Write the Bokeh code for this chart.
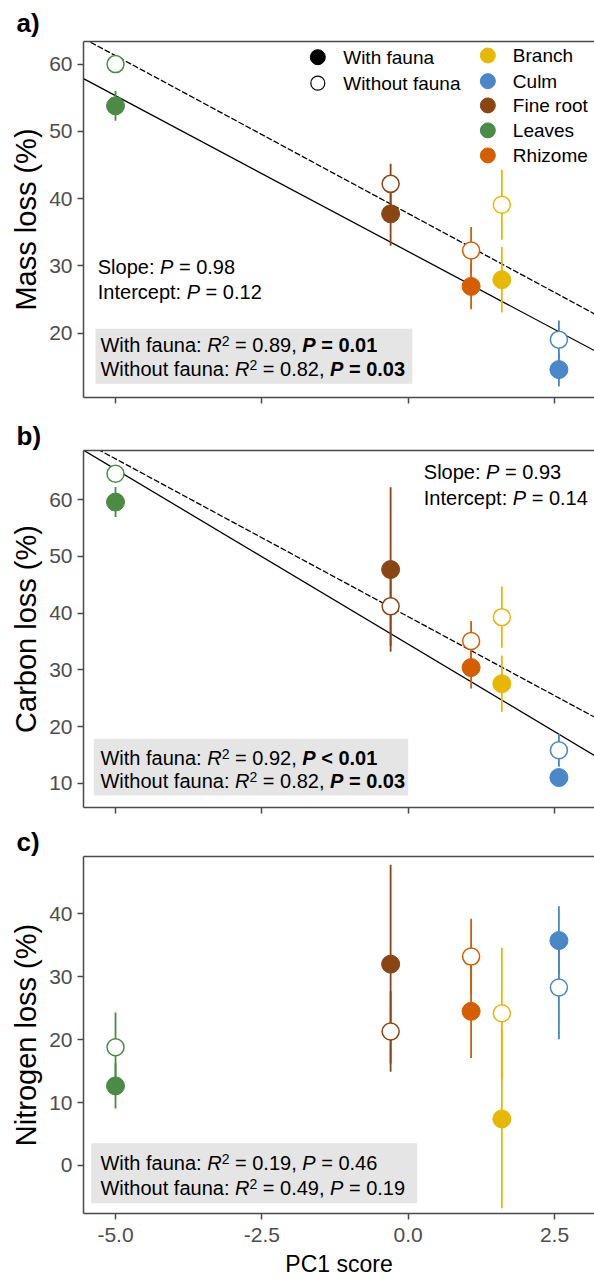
from bokeh.plotting import figure
from bokeh.models import (Range1d, FixedTicker, LinearAxis, Label,
                          CustomJSTickFormatter, NumeralTickFormatter)
from bokeh.layouts import column
from bokeh.embed import file_html
from bokeh.resources import INLINE

# ---------------- data ----------------
categories = ["Branch", "Culm", "Fine root", "Leaves", "Rhizome"]
pc1_score = [1.60, 2.575, -0.30, -5.00, 1.075]
colors = ["#E6B800", "#4A86C8", "#8B4513", "#4B8B47", "#D55E00"]

mass_with = [27.95, 14.6, 37.75, 53.8, 26.96]
mass_with_se = [4.85, 2.5, 4.75, 2.2, 3.4]
mass_without = [39.1, 19.05, 42.2, 60.0, 32.3]
mass_without_se = [5.2, 2.85, 3.0, 0.8, 3.5]

carbon_with = [27.55, 11.0, 47.7, 59.6, 30.4]
carbon_with_se = [4.95, 1.5, 14.5, 2.65, 3.7]
carbon_without = [39.3, 15.8, 41.2, 64.6, 35.1]
carbon_without_se = [5.4, 2.9, 7.0, 1.0, 3.5]

nitrogen_with = [7.4, 35.75, 32.0, 12.65, 24.5]
nitrogen_with_se = [14.2, 5.45, 15.8, 3.6, 7.4]
nitrogen_without = [24.2, 28.3, 21.3, 18.8, 33.2]
nitrogen_without_se = [10.4, 8.25, 6.4, 5.5, 6.0]

# fitted regression lines (intercept, slope)
mass_fit_with = [32.15, -4.63]
mass_fit_without = [37.8, -4.69]
carbon_fit_with = [34.53, -6.17]
carbon_fit_without = [39.38, -5.57]

r2_with = ["0.89", "0.92", "0.19"]
p_with = ["= 0.01", "< 0.01", "= 0.46"]
r2_without = ["0.82", "0.82", "0.49"]
p_without = ["= 0.03", "= 0.03", "= 0.19"]
p_bold = [True, True, False]
slope_p = ["0.98", "0.93"]
intercept_p = ["0.12", "0.14"]
panel_tags = ["a)", "b)", "c)"]

pc1_ticks = [-5.0, -2.5, 0.0, 2.5]
mass_ticks = [20, 30, 40, 50, 60]
carbon_ticks = [10, 20, 30, 40, 50, 60]
nitrogen_ticks = [0, 10, 20, 30, 40]

# ---------------- styling helpers ----------------
FONT = "Liberation Sans"
BORDER = "#4a4a4a"
X_START, X_END = -5.547, 3.183

AW = {' ': 278, 'W': 944, 'i': 222, 't': 278, 'h': 556, 'f': 278, 'a': 556, 'u': 556,
      'n': 556, ':': 278, 'o': 556, 'S': 667, 'l': 222, 'p': 556, 'e': 556, 'I': 278,
      'c': 500, 'r': 333, 'P': 667, 'R': 722, '=': 584, '<': 584, ',': 278, '.': 278}


def tw(s, size):
    return sum(AW.get(ch, 556) for ch in s) / 1000.0 * size


def rich(p, x, y, parts, size=20):
    off = 0.0
    for txt, style, sup in parts:
        fs = 14 if sup else size
        stripped = txt.lstrip(" ")
        off += tw(txt[:len(txt) - len(stripped)], fs)
        body = stripped.rstrip(" ")
        if body:
            p.add_layout(Label(x=x, y=y, x_offset=off, y_offset=4 if sup else 0,
                               text=body, text_font=FONT, text_font_size=f"{fs}px",
                               text_font_style=style, text_baseline="middle",
                               text_color="black"))
        off += tw(stripped, fs)


def make_panel(height, top, bottom, y0, y1, yticks, ylabel, show_x, tag, tag_standoff):
    p = figure(width=594, height=height, x_range=Range1d(X_START, X_END),
               y_range=Range1d(y0, y1), output_backend="svg", toolbar_location=None,
               min_border_left=83, min_border_right=0, min_border_top=top,
               min_border_bottom=bottom, outline_line_color=None)
    p.grid.visible = False
    for ax in (p.xaxis[0], p.yaxis[0]):
        ax.axis_line_color = BORDER
        ax.axis_line_width = 1.5
        ax.major_tick_line_color = BORDER
        ax.major_tick_line_width = 1.5
        ax.major_tick_in = 0
        ax.major_tick_out = 6
        ax.minor_tick_line_color = None
        ax.major_label_text_font = FONT
        ax.major_label_text_color = "#4D4D4D"
        ax.major_label_text_font_size = "21px"
        ax.axis_label_text_font = FONT
        ax.axis_label_text_font_style = "normal"
        ax.axis_label_text_color = "black"
    p.xaxis.ticker = FixedTicker(ticks=pc1_ticks)
    p.yaxis.ticker = FixedTicker(ticks=yticks)
    p.yaxis.axis_label = ylabel
    p.yaxis.axis_label_text_font_size = "29px"
    p.yaxis.axis_label_standoff = 4
    if show_x:
        p.xaxis.formatter = NumeralTickFormatter(format="0.0")
        p.xaxis.axis_label = "PC1 score"
        p.xaxis.axis_label_text_font_size = "23px"
        p.xaxis.major_label_standoff = 8
        p.xaxis.axis_label_standoff = 6
    else:
        p.xaxis.formatter = CustomJSTickFormatter(code="return ''")
        p.xaxis.major_label_text_font_size = "0px"
        p.xaxis.major_label_standoff = 0
    topax = LinearAxis(ticker=FixedTicker(ticks=[]),
                       formatter=CustomJSTickFormatter(code="return ''"),
                       major_tick_in=0, major_tick_out=0, minor_tick_in=0, minor_tick_out=0,
                       major_label_text_font_size="0px", major_label_standoff=0,
                       axis_line_color=BORDER, axis_line_width=1.5)
    p.add_layout(topax, "above")
    # panel tag ("a)", "b)", "c)") as the figure title, shifted into the left margin
    p.title.text = tag
    p.title.align = "left"
    p.title.offset = -67
    p.title.text_font = FONT
    p.title.text_font_size = "26px"
    p.title.text_font_style = "bold"
    p.title.text_color = "black"
    p.title.vertical_align = "bottom"
    p.title.standoff = tag_standoff
    return p


def draw_points(p, with_m, with_se, without_m, without_se):
    lo_w = [m - s for m, s in zip(with_m, with_se)]
    hi_w = [m + s for m, s in zip(with_m, with_se)]
    lo_o = [m - s for m, s in zip(without_m, without_se)]
    hi_o = [m + s for m, s in zip(without_m, without_se)]
    p.segment(x0=pc1_score, y0=lo_w, x1=pc1_score, y1=hi_w, line_color=colors, line_width=1.8)
    p.segment(x0=pc1_score, y0=lo_o, x1=pc1_score, y1=hi_o, line_color=colors, line_width=1.8)
    p.scatter(x=pc1_score, y=with_m, size=18, marker="circle", fill_color=colors,
              line_color=colors, line_width=1)
    p.scatter(x=pc1_score, y=without_m, size=17, marker="circle", fill_color="white",
              line_color=colors, line_width=1.5)


def draw_fit(p, fit, dash):
    xs = [X_START, X_END]
    ys = [fit[0] + fit[1] * x for x in xs]
    p.line(xs, ys, line_color="black", line_width=1.3, line_dash=dash)


def stats_box(p, i, left, right, top, bottom, x, y1, y2):
    p.quad(left=[left], right=[right], top=[top], bottom=[bottom],
           fill_color="#E5E5E5", line_color=None)
    bstyle = "bold" if p_bold[i] else "normal"
    bital = "bold italic" if p_bold[i] else "italic"
    for y, lab, r2, pv in ((y1, "With fauna: ", r2_with[i], p_with[i]),
                           (y2, "Without fauna: ", r2_without[i], p_without[i])):
        rich(p, x, y, [(lab, "normal", False), ("R", "italic", False), ("2", "normal", True),
                       (f" = {r2}, ", "normal", False), ("P", bital, False),
                       (" " + pv, bstyle, False)])


def slope_text(p, i, x, y1, y2):
    rich(p, x, y1, [("Slope: ", "normal", False), ("P", "italic", False),
                    (f" = {slope_p[i]}", "normal", False)])
    rich(p, x, y2, [("Intercept: ", "normal", False), ("P", "italic", False),
                    (f" = {intercept_p[i]}", "normal", False)])


# ---------------- panel a ----------------
pa = make_panel(411, 41, 14, 10.45, 63.36, mass_ticks, "Mass loss (%)", False, panel_tags[0], 8)
stats_box(pa, 0, -5.342, 0.069, 20.66, 12.49, -5.257, 18.18, 14.72)
draw_fit(pa, mass_fit_with, "solid")
draw_fit(pa, mass_fit_without, "6 2")
draw_points(pa, mass_with, mass_with_se, mass_without, mass_without_se)
slope_text(pa, 0, -5.303, 29.91, 26.09)

# legend (panel a)
pa.scatter(x=[-1.544], y=[61.03], size=15, marker="circle", fill_color="black", line_color="black")
pa.scatter(x=[-1.544], y=[57.17], size=14, marker="circle", fill_color="white",
           line_color="black", line_width=1.2)
for yy, t in ((61.03, "With fauna"), (57.17, "Without fauna")):
    pa.add_layout(Label(x=-1.11, y=yy, text=t, text_font=FONT, text_font_size="19px",
                        text_baseline="middle", text_color="black"))
leg_y = [61.28, 57.47, 53.86, 50.15, 46.43]
pa.scatter(x=[1.361] * len(categories), y=leg_y, size=15, marker="circle",
           fill_color=colors, line_color=colors)
for yy, t in zip(leg_y, categories):
    pa.add_layout(Label(x=1.788, y=yy, text=t, text_font=FONT, text_font_size="19px",
                        text_baseline="middle", text_color="black"))

# ---------------- panel b ----------------
pb = make_panel(410, 39, 14, 5.71, 68.70, carbon_ticks, "Carbon loss (%)", False, panel_tags[1], 0)
stats_box(pb, 1, -5.371, 0.0, 17.83, 7.83, -5.257, 14.48, 10.35)
draw_fit(pb, carbon_fit_with, "solid")
draw_fit(pb, carbon_fit_without, "6 2")
draw_points(pb, carbon_with, carbon_with_se, carbon_without, carbon_without_se)
slope_text(pb, 1, 0.267, 64.87, 60.36)

# ---------------- panel c ----------------
pc = make_panel(460, 35, 68, -7.63, 49.11, nitrogen_ticks, "Nitrogen loss (%)", True, panel_tags[2], 0)
stats_box(pc, 2, -5.415, 0.153, 3.55, -5.99, -5.257, 0.37, -3.54)
draw_points(pc, nitrogen_with, nitrogen_with_se, nitrogen_without, nitrogen_without_se)

layout = column(pa, pb, pc, spacing=0)
open("out.html", "w").write(file_html(layout, INLINE))
